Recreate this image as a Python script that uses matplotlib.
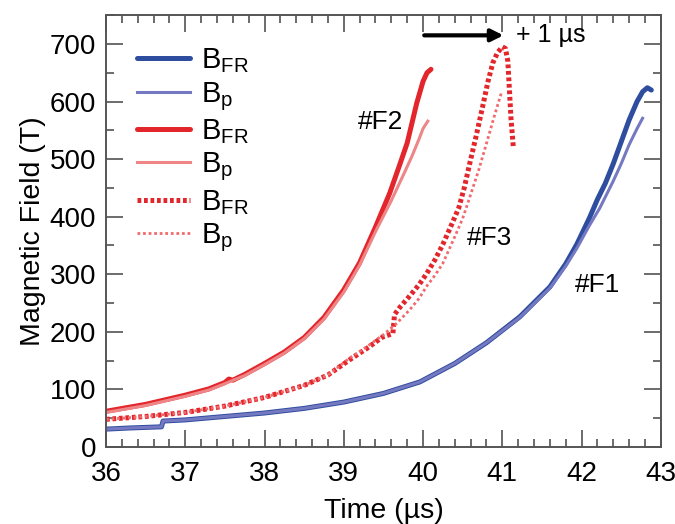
import numpy as np
import matplotlib
matplotlib.use('Agg')
import matplotlib.pyplot as plt
from matplotlib.ticker import MultipleLocator

plt.rcParams['font.family'] = ['Liberation Sans', 'DejaVu Sans']
plt.rcParams['mathtext.default'] = 'regular'

# #F1 (blue)
f1_fr_t = [36.0, 36.3, 36.7, 36.72, 37.0, 37.5, 38.0, 38.5, 39.0, 39.5, 39.96, 40.4, 40.8, 41.22,
           41.6, 41.8, 41.94, 42.1, 42.2, 42.3, 42.4, 42.5, 42.6, 42.7, 42.77, 42.83, 42.88]
f1_fr_b = [31, 33, 35, 45, 47, 53, 59, 67, 78, 93, 113, 145, 181, 226,
           278, 318, 352, 398, 430, 458, 492, 530, 568, 600, 617, 624, 620]
f1_p_t = [36.0, 36.3, 36.7, 36.72, 37.0, 37.5, 38.0, 38.5, 39.0, 39.5, 39.96, 40.4, 40.8, 41.22,
          41.6, 41.8, 41.94, 42.1, 42.23, 42.4, 42.5, 42.6, 42.7, 42.77]
f1_p_b = [31, 33, 35, 45, 47, 53, 59, 67, 78, 93, 113, 145, 181, 225,
          276, 314, 345, 385, 415, 462, 492, 525, 553, 571]

# #F2 (red)
f2_fr_t = [36.0, 36.5, 37.0, 37.3, 37.5, 37.55, 37.6, 37.75, 38.0, 38.25, 38.5, 38.75, 39.0,
           39.2, 39.4, 39.58, 39.7, 39.8, 39.92, 40.0, 40.05, 40.1]
f2_fr_b = [62, 74, 90, 101, 112, 118, 116, 126, 145, 165, 190, 225, 273,
           320, 382, 441, 488, 528, 597, 635, 650, 656]
f2_p_t = [36.0, 36.5, 37.0, 37.3, 37.5, 37.75, 38.0, 38.25, 38.5, 38.75, 39.0,
          39.2, 39.4, 39.6, 39.75, 39.86, 39.95, 40.0, 40.06]
f2_p_b = [60, 72, 88, 99, 110, 124, 143, 163, 188, 222, 269,
          316, 374, 428, 472, 505, 535, 553, 566]

# #F3 (red, dotted)
f3_fr_t = [36.0, 36.5, 37.0, 37.5, 38.0, 38.5, 38.8, 39.08, 39.3, 39.49, 39.62, 39.64, 39.71,
           39.83, 39.95, 40.05, 40.15, 40.25, 40.35, 40.45, 40.52, 40.59, 40.67, 40.75, 40.82,
           40.88, 40.94, 41.0, 41.04, 41.07, 41.09, 41.11, 41.14]
f3_fr_b = [48, 53, 60, 71, 86, 107, 125, 152, 172, 191, 197, 230, 243,
           262, 282, 302, 325, 352, 383, 415, 450, 493, 540, 590, 635,
           667, 685, 695, 692, 670, 620, 570, 519]
f3_p_t = [36.0, 36.5, 37.0, 37.5, 38.0, 38.5, 38.8, 39.08, 39.3, 39.5, 39.67, 39.83, 39.95,
          40.05, 40.15, 40.25, 40.4, 40.5, 40.59, 40.7, 40.8, 40.9, 40.99]
f3_p_b = [48, 53, 60, 71, 86, 107, 125, 155, 175, 195, 215, 238, 258,
          280, 298, 319, 365, 397, 434, 480, 527, 575, 616]

blue_fr = '#2f4d9e'
blue_p = '#7579c2'
red_fr = '#e3262b'
red_p = '#ee8587'
red_p3 = '#f06a6e'

fig = plt.figure(figsize=(6.75, 5.24), dpi=100)
ax = fig.add_axes([0.157, 0.147, 0.822, 0.824])

ax.plot(f1_fr_t, f1_fr_b, color=blue_fr, lw=3.6, label=r'$B_{FR}$', solid_capstyle='round')
ax.plot(f1_p_t, f1_p_b, color=blue_p, lw=2.2, label=r'$B_p$')
ax.plot(f2_fr_t, f2_fr_b, color=red_fr, lw=3.6, label=r'$B_{FR}$', solid_capstyle='round')
ax.plot(f2_p_t, f2_p_b, color=red_p, lw=2.2, label=r'$B_p$')
ax.plot(f3_fr_t, f3_fr_b, color=red_fr, lw=3.6, ls=(0, (0.75, 0.55)), label=r'$B_{FR}$')
ax.plot(f3_p_t, f3_p_b, color=red_p3, lw=2.0, ls=(0, (1, 1)), label=r'$B_p$')

ax.set_xlim(36, 43)
ax.set_ylim(0, 750)
ax.xaxis.set_major_locator(MultipleLocator(1))
ax.xaxis.set_minor_locator(MultipleLocator(0.2))
ax.yaxis.set_major_locator(MultipleLocator(100))
ax.yaxis.set_minor_locator(MultipleLocator(50))
ax.tick_params(which='both', direction='in', top=True, right=True, labelsize=20,
               color='#444444', width=1.1)
ax.tick_params(which='major', length=12)
ax.tick_params(axis='x', which='major', pad=10)
ax.tick_params(axis='y', which='major', pad=7)
ax.tick_params(which='minor', length=6)
for s in ax.spines.values():
    s.set_color('#555555')
    s.set_linewidth(1.4)

ax.set_xlabel('Time (µs)', fontsize=20.5, labelpad=8)
ax.set_ylabel('Magnetic Field (T)', fontsize=20.5, labelpad=3)

ax.text(39.46, 564, '#F2', fontsize=19, ha='center', va='center')
ax.text(40.84, 363, '#F3', fontsize=19, ha='center', va='center')
ax.text(42.2, 281, '#F1', fontsize=19, ha='center', va='center')

ax.annotate('', xy=(41.05, 715), xytext=(39.98, 715),
            arrowprops=dict(arrowstyle='-|>', color='black', lw=3, mutation_scale=18))
ax.text(41.17, 715, '+ 1 µs', fontsize=18, ha='left', va='center')

ax.legend(loc='upper left', bbox_to_anchor=(0.035, 0.955), frameon=False, fontsize=21,
          handlelength=1.8, handletextpad=0.4, labelspacing=0.16, borderaxespad=0)

fig.savefig('out.png', dpi=100)
